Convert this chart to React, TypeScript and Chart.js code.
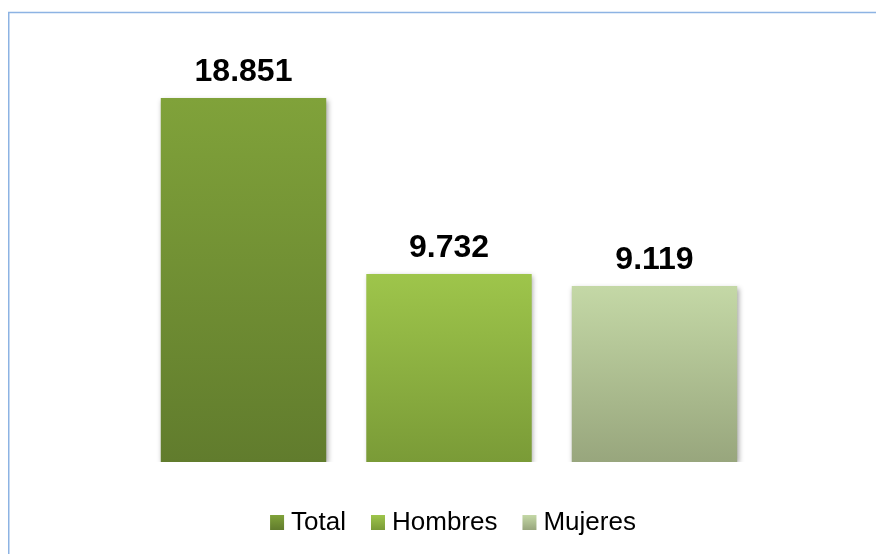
import React, { useEffect, useRef } from "react";
import { Chart, registerables } from "chart.js";

Chart.register(...registerables);

const categories = [""];
const seriesNames = ["Total", "Hombres", "Mujeres"];
const seriesValues = [18851, 9732, 9119];
const topColors = ["#80A23A", "#9EC54B", "#C4D8A6"];
const bottomColors = ["#617C2D", "#7A9B37", "#98A67D"];
const yMax = 20000;

const FONT = "'Liberation Sans', Arial, Helvetica, sans-serif";

function fmt(v: number): string {
  return String(v).replace(/\B(?=(\d{3})+(?!\d))/g, ".");
}

const frameShadowPlugin = {
  id: "frameShadow",
  beforeDraw(chart: any) {
    const ctx = chart.ctx;
    ctx.save();
    ctx.fillStyle = "#ffffff";
    ctx.fillRect(0, 0, chart.width, chart.height);
    ctx.strokeStyle = "#8DB3E3";
    ctx.lineWidth = 1.5;
    ctx.beginPath();
    ctx.moveTo(8.75, chart.height);
    ctx.lineTo(8.75, 12.5);
    ctx.lineTo(chart.width, 12.5);
    ctx.stroke();
    ctx.restore();
  },
  beforeDatasetsDraw(chart: any) {
    const ctx = chart.ctx;
    ctx.save();
    ctx.shadowColor = "rgba(0,0,0,0.35)";
    ctx.shadowBlur = 5;
    ctx.shadowOffsetX = 1.5;
    ctx.shadowOffsetY = 2;
  },
  afterDatasetsDraw(chart: any) {
    const ctx = chart.ctx;
    ctx.restore();
    ctx.save();
    ctx.font = `bold 32px ${FONT}`;
    ctx.fillStyle = "#000000";
    ctx.textAlign = "center";
    ctx.textBaseline = "alphabetic";
    chart.data.datasets.forEach((ds: any, i: number) => {
      const meta = chart.getDatasetMeta(i);
      meta.data.forEach((el: any, j: number) => {
        ctx.fillText(fmt(ds.data[j]), el.x, el.y - 17);
      });
    });
    ctx.restore();
  },
  afterDraw(chart: any) {
    const ctx = chart.ctx;
    ctx.save();
    ctx.font = `26px ${FONT}`;
    const boxW = 14;
    const boxH = 15;
    const gapBoxText = 7;
    const gapItems = 25;
    const widths = seriesNames.map((n) => ctx.measureText(n).width);
    const total =
      widths.reduce((a, w) => a + boxW + gapBoxText + w, 0) +
      gapItems * (seriesNames.length - 1);
    let x = 453 - total / 2;
    const boxTop = 515;
    const baseline = 530;
    seriesNames.forEach((name, i) => {
      const g = ctx.createLinearGradient(0, boxTop, 0, boxTop + boxH);
      g.addColorStop(0, topColors[i]);
      g.addColorStop(1, bottomColors[i]);
      ctx.fillStyle = g;
      ctx.fillRect(x, boxTop, boxW, boxH);
      ctx.fillStyle = "#000000";
      ctx.textAlign = "left";
      ctx.textBaseline = "alphabetic";
      ctx.fillText(name, x + boxW + gapBoxText, baseline);
      x += boxW + gapBoxText + widths[i] + gapItems;
    });
    ctx.restore();
  },
};

export default function App() {
  const canvasRef = useRef<HTMLCanvasElement | null>(null);

  useEffect(() => {
    document.body.style.margin = "0";
    document.body.style.overflow = "hidden";
    const canvas = canvasRef.current;
    if (!canvas) return;

    const datasets = seriesNames.map((name, i) => ({
      label: name,
      data: [seriesValues[i]],
      backgroundColor: (c: any) => {
        const chart = c.chart;
        const { chartArea, scales } = chart;
        if (!chartArea || !scales || !scales.y) return topColors[i];
        const yTop = scales.y.getPixelForValue(seriesValues[i]);
        const yBot = scales.y.getPixelForValue(0);
        const g = chart.ctx.createLinearGradient(0, yTop, 0, yBot);
        g.addColorStop(0, topColors[i]);
        g.addColorStop(1, bottomColors[i]);
        return g;
      },
      borderWidth: 0,
      barPercentage: 0.805,
      categoryPercentage: 0.8,
    }));

    const chart = new Chart(canvas, {
      type: "bar",
      data: { labels: categories, datasets },
      options: {
        responsive: false,
        animation: false,
        devicePixelRatio: 1,
        layout: {
          padding: { left: 63.7, right: 41.7, top: 75.8, bottom: 92 },
        },
        scales: {
          x: { display: false, grid: { display: false } },
          y: { display: false, min: 0, max: yMax, grid: { display: false } },
        },
        plugins: {
          legend: { display: false },
          tooltip: { enabled: false },
        },
      },
      plugins: [frameShadowPlugin],
    });

    return () => chart.destroy();
  }, []);

  return (
    <div style={{ width: 876, height: 554 }}>
      <canvas ref={canvasRef} width={876} height={554} style={{ display: "block" }} />
    </div>
  );
}
